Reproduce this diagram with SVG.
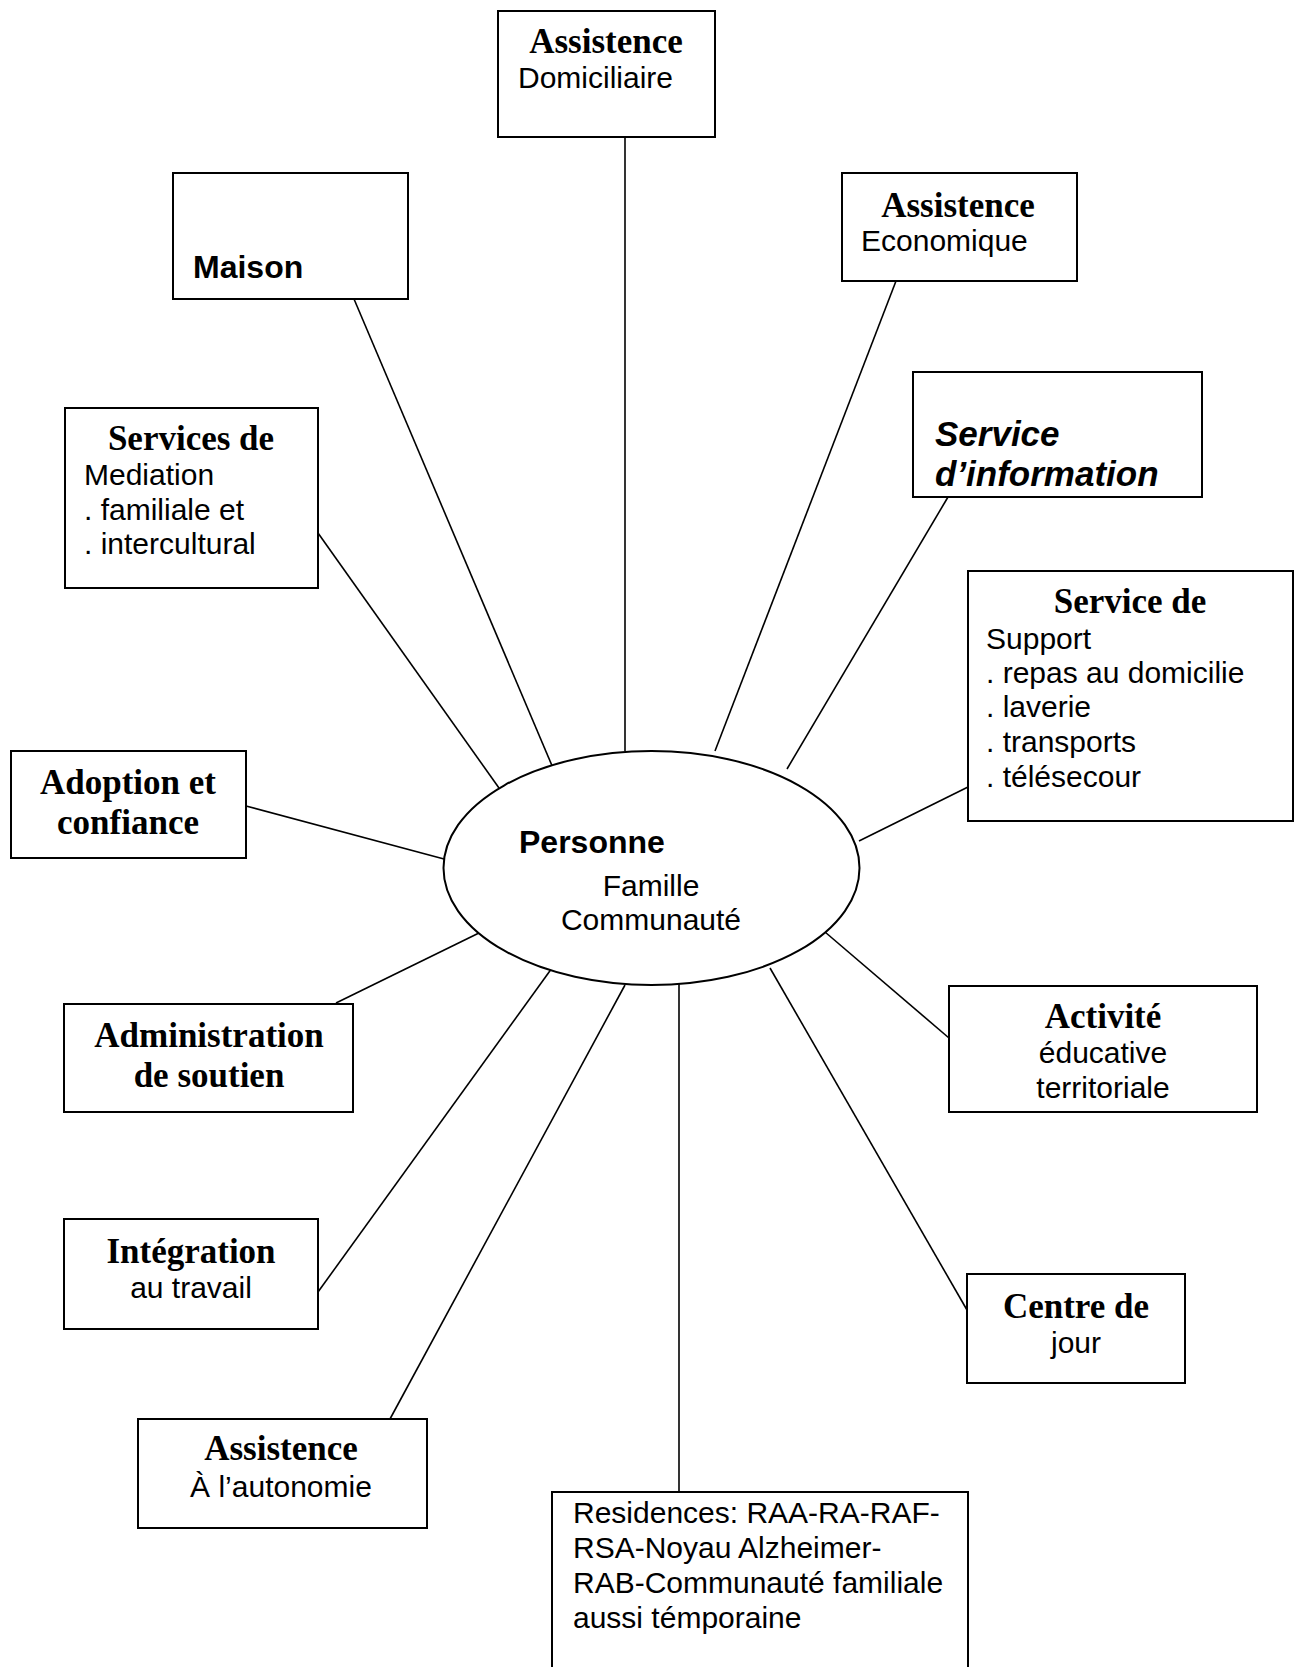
<svg xmlns="http://www.w3.org/2000/svg" width="1297" height="1667" viewBox="0 0 1297 1667">
<style>
.box{fill:#fff;stroke:#000;stroke-width:2}
.ln{stroke:#000;stroke-width:1.6;fill:none}
.tb{font-family:"Liberation Serif","Times New Roman",serif;font-weight:bold;font-size:35px;fill:#000}
.ar{font-family:"Liberation Sans",Arial,sans-serif;font-size:30px;fill:#000}
.ab{font-family:"Liberation Sans",Arial,sans-serif;font-weight:bold;font-size:32px;fill:#000}
.abi{font-family:"Liberation Sans",Arial,sans-serif;font-weight:bold;font-style:italic;font-size:35px;fill:#000}
.c{text-anchor:middle}
</style>
<rect width="1297" height="1667" fill="#fff"/>
<g id="connectors">
<line class="ln" x1="625" y1="137" x2="625" y2="751"/>
<line class="ln" x1="354" y1="299" x2="553" y2="768"/>
<line class="ln" x1="318" y1="533" x2="499" y2="788"/>
<line class="ln" x1="246" y1="806" x2="444" y2="859"/>
<line class="ln" x1="336" y1="1003" x2="481" y2="932"/>
<line class="ln" x1="318" y1="1292" x2="552" y2="968"/>
<line class="ln" x1="390" y1="1419" x2="625" y2="985"/>
<line class="ln" x1="679" y1="984" x2="679" y2="1492"/>
<line class="ln" x1="967" y1="1310" x2="770" y2="968"/>
<line class="ln" x1="949" y1="1038" x2="825" y2="932"/>
<line class="ln" x1="968" y1="787" x2="859" y2="841"/>
<line class="ln" x1="948" y1="497" x2="787" y2="769"/>
<line class="ln" x1="896" y1="281" x2="715" y2="751"/>
</g>
<g id="personne">
<ellipse class="box" cx="651.5" cy="868" rx="208" ry="117"/>
<text class="ab" x="519" y="853">Personne</text>
<text class="ar c" x="651" y="896">Famille</text>
<text class="ar c" x="651" y="930">Communauté</text>
</g>
<g id="assistence-domiciliaire">
<rect class="box" x="498" y="11" width="217" height="126"/>
<text class="tb c" x="606" y="53">Assistence</text>
<text class="ar" x="518" y="88">Domiciliaire</text>
</g>
<g id="maison">
<rect class="box" x="173" y="173" width="235" height="126"/>
<text class="ab" x="193" y="278">Maison</text>
</g>
<g id="assistence-economique">
<rect class="box" x="842" y="173" width="235" height="108"/>
<text class="tb c" x="958" y="217">Assistence</text>
<text class="ar" x="861" y="251">Economique</text>
</g>
<g id="service-information">
<rect class="box" x="913" y="372" width="289" height="125"/>
<text class="abi" x="935" y="446">Service</text>
<text class="abi" x="935" y="486">d’information</text>
</g>
<g id="services-mediation">
<rect class="box" x="65" y="408" width="253" height="180"/>
<text class="tb c" x="191" y="450">Services de</text>
<text class="ar" x="84" y="485">Mediation</text>
<text class="ar" x="84" y="520">. familiale et</text>
<text class="ar" x="84" y="554">. intercultural</text>
</g>
<g id="service-support">
<rect class="box" x="968" y="571" width="325" height="250"/>
<text class="tb c" x="1130" y="613">Service de</text>
<text class="ar" x="986" y="649">Support</text>
<text class="ar" x="986" y="683">. repas au domicilie</text>
<text class="ar" x="986" y="717">. laverie</text>
<text class="ar" x="986" y="752">. transports</text>
<text class="ar" x="986" y="787">. télésecour</text>
</g>
<g id="adoption">
<rect class="box" x="11" y="751" width="235" height="107"/>
<text class="tb c" x="128" y="794">Adoption et</text>
<text class="tb c" x="128" y="834">confiance</text>
</g>
<g id="administration">
<rect class="box" x="64" y="1004" width="289" height="108"/>
<text class="tb c" x="209" y="1047">Administration</text>
<text class="tb c" x="209" y="1087">de soutien</text>
</g>
<g id="activite">
<rect class="box" x="949" y="986" width="308" height="126"/>
<text class="tb c" x="1103" y="1028">Activité</text>
<text class="ar c" x="1103" y="1063">éducative</text>
<text class="ar c" x="1103" y="1098">territoriale</text>
</g>
<g id="integration">
<rect class="box" x="64" y="1219" width="254" height="110"/>
<text class="tb c" x="191" y="1263">Intégration</text>
<text class="ar c" x="191" y="1298">au travail</text>
</g>
<g id="centre-jour">
<rect class="box" x="967" y="1274" width="218" height="109"/>
<text class="tb c" x="1076" y="1318">Centre de</text>
<text class="ar c" x="1076" y="1353">jour</text>
</g>
<g id="assistence-autonomie">
<rect class="box" x="138" y="1419" width="289" height="109"/>
<text class="tb c" x="281" y="1460">Assistence</text>
<text class="ar c" x="281" y="1497">À l’autonomie</text>
</g>
<g id="residences">
<rect class="box" x="552" y="1492" width="416" height="190"/>
<text class="ar" x="573" y="1523">Residences: RAA-RA-RAF-</text>
<text class="ar" x="573" y="1558">RSA-Noyau Alzheimer-</text>
<text class="ar" x="573" y="1593">RAB-Communauté familiale</text>
<text class="ar" x="573" y="1628">aussi témporaine</text>
</g>
</svg>
